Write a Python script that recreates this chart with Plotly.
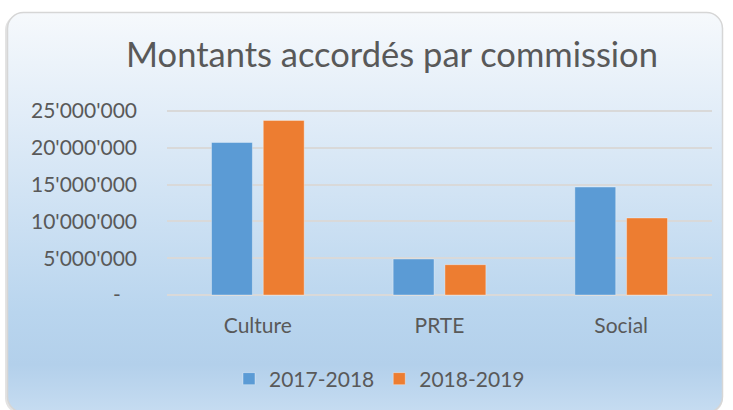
import plotly.graph_objects as go

# Montants par commission
COMMISSIONS = ["Culture", "PRTE", "Social"]
MONTANTS_2017_2018 = [20_730_000, 4_890_000, 14_670_000]
MONTANTS_2018_2019 = [23_720_000, 4_120_000, 10_460_000]

Y_TICKS = [0, 5_000_000, 10_000_000, 15_000_000, 20_000_000, 25_000_000]
Y_LABELS = ["-\u00a0\u00a0\u00a0", "5'000'000", "10'000'000", "15'000'000", "20'000'000", "25'000'000"]

W, H = 733, 410
ML, MR, MT, MB = 167, 21, 107, 111
# débord de l'axe y (4 px de chaque côté) pour garder les lignes 0 et 25M
Y_MARGE = 543_478

FONT = "Lato"
GRIS = "#595959"

# fond dégradé avec coins arrondis (image SVG en ligne)
fond_svg = (
    f"<svg xmlns='http://www.w3.org/2000/svg' width='{W}' height='{H}' viewBox='0 0 {W} {H}' preserveAspectRatio='none'>"
    "<defs><linearGradient id='g' x1='0' y1='0' x2='0' y2='1'>"
    "<stop offset='0' stop-color='#f6f9fc'/>"
    "<stop offset='0.25' stop-color='#e2edf8'/>"
    "<stop offset='0.75' stop-color='#b9d5ee'/>"
    "<stop offset='0.88' stop-color='#b3d0eb'/>"
    "<stop offset='1' stop-color='#c6dcf1'/>"
    "</linearGradient></defs>"
    "<rect x='5' y='14' width='718' height='400' rx='16' fill='#e3e3e3'/>"
    "<rect x='7.5' y='12.5' width='715' height='400' rx='16' fill='url(#g)' stroke='#d6d6d6' stroke-width='1.5'/>"
    "</svg>"
)
fond_uri = "data:image/svg+xml;charset=utf-8," + fond_svg.replace("#", "%23").replace("<", "%3C").replace(">", "%3E")

pw = W - ML - MR
ph = H - MT - MB

fig = go.Figure()

fig.add_trace(
    go.Bar(
        x=COMMISSIONS,
        y=MONTANTS_2017_2018,
        name="2017-2018",
        marker_color="#5b9bd5",
        marker_line_color="rgba(255,255,255,0.35)",
        marker_line_width=1,
    )
)

fig.add_trace(
    go.Bar(
        x=COMMISSIONS,
        y=MONTANTS_2018_2019,
        name="2018-2019",
        marker_color="#ed7d31",
        marker_line_color="rgba(255,255,255,0.35)",
        marker_line_width=1,
    )
)

fig.update_xaxes(
    showgrid=False,
    showline=False,
    zeroline=False,
    ticks="",
    ticklabelstandoff=12,
    tickfont=dict(family=FONT, size=21, color=GRIS),
)

fig.update_yaxes(
    range=[-Y_MARGE, 25_000_000 + Y_MARGE],
    tickvals=Y_TICKS,
    ticktext=Y_LABELS,
    showgrid=True,
    gridcolor="#d9d9d9",
    gridwidth=1.5,
    zeroline=False,
    showline=False,
    ticks="",
    ticklabelstandoff=29,
    tickfont=dict(family=FONT, size=21, color=GRIS),
)

fig.update_layout(
    width=W,
    height=H,
    margin=dict(l=ML, r=MR, t=MT, b=MB),
    paper_bgcolor="#ffffff",
    plot_bgcolor="rgba(0,0,0,0)",
    barmode="group",
    bargap=0.43,
    bargroupgap=0.21,
    font=dict(family=FONT, color=GRIS),
    title=dict(
        text="Montants accordés par commission",
        font=dict(family=FONT, size=34.5, color=GRIS),
        x=392 / W,
        xref="container",
        xanchor="center",
        y=1 - 55 / H,
        yref="container",
        yanchor="middle",
    ),
    showlegend=True,
    legend=dict(
        orientation="h",
        xref="container",
        yref="container",
        x=229 / W,
        xanchor="left",
        y=1 - 379 / H,
        yanchor="middle",
        font=dict(family=FONT, size=21, color=GRIS),
        bgcolor="rgba(0,0,0,0)",
        itemclick=False,
    ),
    images=[
        dict(
            source=fond_uri,
            xref="paper",
            yref="paper",
            x=-ML / pw,
            y=1 + MT / ph,
            sizex=W / pw,
            sizey=H / ph,
            xanchor="left",
            yanchor="top",
            sizing="stretch",
            layer="below",
        )
    ],
)

fig.write_html(
    "out.html",
    config={"displayModeBar": False},
    post_script="document.body.style.margin='0';",
)
